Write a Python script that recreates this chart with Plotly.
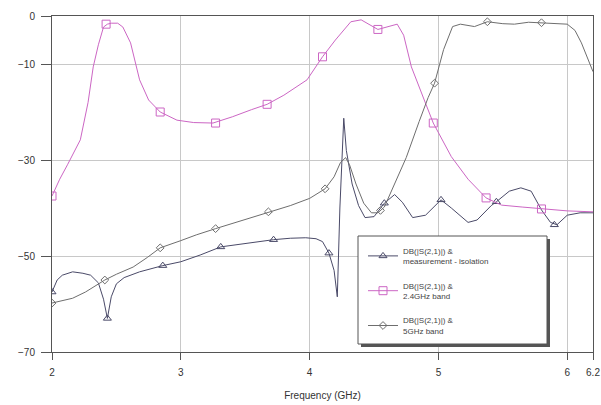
import plotly.graph_objects as go

# ---- data ----
iso_x = [2.00, 2.04, 2.08, 2.16, 2.24, 2.30, 2.36, 2.40, 2.43, 2.46, 2.50, 2.56, 2.68, 2.86, 3.00, 3.15,
         3.31, 3.45, 3.60, 3.72, 3.85, 3.97, 4.05, 4.10, 4.15, 4.19, 4.215, 4.235, 4.265, 4.285, 4.33,
         4.38, 4.43, 4.50, 4.58, 4.66, 4.72, 4.80, 4.90, 5.02, 5.10, 5.23, 5.30, 5.41, 5.45, 5.55, 5.64,
         5.72, 5.80, 5.87, 5.92, 6.00, 6.10, 6.20]
iso_y = [-57.5, -55.0, -54.0, -53.3, -53.6, -54.0, -55.6, -59.0, -63.0, -58.5, -55.8, -54.5, -53.3, -52.0,
         -51.2, -49.8, -48.1, -47.6, -47.0, -46.6, -46.3, -46.2, -46.4, -47.0, -49.4, -53.0, -58.5, -40.0,
         -21.3, -28.0, -35.0, -39.5, -42.0, -41.8, -39.0, -37.2, -38.8, -42.0, -41.5, -38.3, -40.0, -43.0,
         -42.5, -39.5, -38.7, -36.5, -35.8, -36.5, -40.4, -43.0, -43.5, -41.5, -41.0, -41.0]
iso_mx = [2.00, 2.43, 2.86, 3.31, 3.72, 4.15, 4.58, 5.02, 5.45, 5.90]
iso_my = [-57.5, -63.0, -52.0, -48.1, -46.6, -49.4, -39.0, -38.3, -38.7, -43.5]

b24_x = [2.00, 2.06, 2.12, 2.22, 2.28, 2.32, 2.36, 2.40, 2.43, 2.46, 2.51, 2.55, 2.61, 2.68, 2.75, 2.84,
         2.97, 3.10, 3.25, 3.40, 3.55, 3.67, 3.80, 3.98, 4.10, 4.20, 4.32, 4.40, 4.53, 4.62, 4.68, 4.73,
         4.79, 4.89, 4.96, 5.10, 5.23, 5.37, 5.49, 5.65, 5.80, 6.00, 6.20]
b24_y = [-37.5, -34.0, -31.0, -25.8, -18.0, -10.6, -6.0, -2.3, -1.7, -1.5, -1.5, -2.3, -5.6, -13.3, -17.5,
         -20.0, -21.7, -22.2, -22.3, -21.0, -19.5, -18.4, -16.5, -13.3, -8.5, -5.0, -1.2, -0.8, -2.8, -2.2,
         -1.7, -4.0, -10.6, -17.5, -22.3, -29.3, -34.0, -37.9, -39.4, -39.8, -40.2, -40.6, -40.8]
b24_mx = [2.00, 2.42, 2.84, 3.27, 3.67, 4.10, 4.53, 4.96, 5.37, 5.80]
b24_my = [-37.5, -1.7, -20.0, -22.3, -18.4, -8.5, -2.8, -22.3, -37.9, -40.2]

b5_x = [2.00, 2.08, 2.16, 2.26, 2.37, 2.41, 2.50, 2.63, 2.74, 2.84, 3.00, 3.12, 3.27, 3.45, 3.60, 3.68,
        3.85, 4.00, 4.12, 4.19, 4.24, 4.28, 4.31, 4.36, 4.42, 4.48, 4.53, 4.58, 4.65, 4.75, 4.85, 4.92,
        4.97, 5.04, 5.11, 5.17, 5.28, 5.38, 5.50, 5.59, 5.70, 5.80, 5.90, 6.00, 6.06, 6.11, 6.20]
b5_y = [-59.8, -59.3, -58.8, -57.5, -55.6, -55.0, -53.8, -52.3, -50.3, -48.3, -46.8, -45.6, -44.3, -42.8,
        -41.6, -40.8, -39.5, -38.0, -36.0, -33.5, -30.5, -29.5, -31.0, -35.0, -39.0, -41.0, -41.0, -39.8,
        -35.5, -29.5, -22.0, -17.0, -14.0, -7.0, -2.2, -1.7, -2.2, -1.2, -1.6, -1.7, -1.3, -1.4, -1.6,
        -1.7, -3.0, -5.6, -11.6]
b5_mx = [2.00, 2.41, 2.84, 3.27, 3.68, 4.12, 4.55, 4.97, 5.38, 5.80]
b5_my = [-59.8, -55.0, -48.3, -44.3, -40.8, -36.0, -40.5, -14.0, -1.2, -1.4]

names = ["DB(|S(2,1)|) &<br>measurement - isolation",
         "DB(|S(2,1)|) &<br>2.4GHz band",
         "DB(|S(2,1)|) &<br>5GHz band"]

x_ticks = [2, 3, 4, 5, 6, 6.2]
x_ticktext = ["2", "3", "4", "5", "6", "6.2"]
y_ticks = [0, -10, -30, -50, -70]

# ---- styles ----
c_iso = "#4a4a68"
c_24 = "#cc66c4"
c_5 = "#6e6e6e"
series = [
    (iso_x, iso_y, iso_mx, iso_my, c_iso, "triangle-up-open", 7),
    (b24_x, b24_y, b24_mx, b24_my, c_24, "square-open", 8),
    (b5_x, b5_y, b5_mx, b5_my, c_5, "diamond-open", 6),
]

fig = go.Figure()
for i, (x, y, mx, my, col, sym, sz) in enumerate(series):
    fig.add_trace(go.Scatter(x=x, y=y, mode="lines", line=dict(color=col, width=1),
                             showlegend=False, hoverinfo="skip"))
    fig.add_trace(go.Scatter(x=mx, y=my, mode="markers",
                             marker=dict(symbol=sym, size=sz, color=col, line=dict(width=1, color=col)),
                             showlegend=False))
    fig.add_trace(go.Scatter(x=[None], y=[None], mode="lines+markers", name=names[i],
                             legendgroup=f"g{i}",
                             line=dict(color=col, width=1),
                             marker=dict(symbol=sym, size=sz, color=col, line=dict(width=1, color=col))))

axis_font = dict(family="Liberation Sans, Arial, sans-serif", size=10, color="#333333")
fig.update_xaxes(range=[2, 6.2], tickvals=x_ticks, ticktext=x_ticktext, automargin=False,
                 showgrid=True, gridcolor="#c8c8c8", gridwidth=1,
                 showline=True, linecolor="#555555", linewidth=1, mirror=True,
                 ticks="outside", ticklen=7, tickcolor="#555555", tickfont=axis_font,
                 ticklabelstandoff=4, zeroline=False,
                 title=dict(text="Frequency (GHz)", font=axis_font, standoff=14))
fig.update_yaxes(range=[-70, 0], tickvals=y_ticks, automargin=False,
                 showgrid=True, gridcolor="#c8c8c8", gridwidth=1,
                 showline=True, linecolor="#555555", linewidth=1, mirror=True,
                 ticks="outside", ticklen=10, tickcolor="#555555", tickfont=axis_font,
                 ticklabelstandoff=4, zeroline=False)

# plot area spans x 52..593, y 16..352 of the 601x405 page
px0, pw, py0, ph = 52, 541, 352, 336
def fx(p): return (p - px0) / pw
def fy(p): return (py0 - p) / ph

fig.update_layout(
    width=601, height=405,
    margin=dict(l=52, r=8, t=16, b=53),
    paper_bgcolor="white", plot_bgcolor="white",
    font=dict(family="Liberation Sans, Arial, sans-serif", size=10, color="#333333"),
    legend=dict(x=fx(363), y=fy(239), xanchor="left", yanchor="top",
                bgcolor="rgba(0,0,0,0)", borderwidth=0,
                font=dict(size=8, color="#444444"), tracegroupgap=11),
    shapes=[
        dict(type="rect", xref="paper", yref="paper",
             x0=fx(361), x1=fx(550), y0=fy(347), y1=fy(239),
             fillcolor="#555555", line=dict(width=0), layer="above"),
        dict(type="rect", xref="paper", yref="paper",
             x0=fx(358), x1=fx(547), y0=fy(344), y1=fy(236),
             fillcolor="white", line=dict(width=1, color="#555555"), layer="above"),
    ],
)

fig.write_html("out.html", config={"displayModeBar": False},
               post_script="document.body.style.margin='0';document.body.style.overflow='hidden';")
